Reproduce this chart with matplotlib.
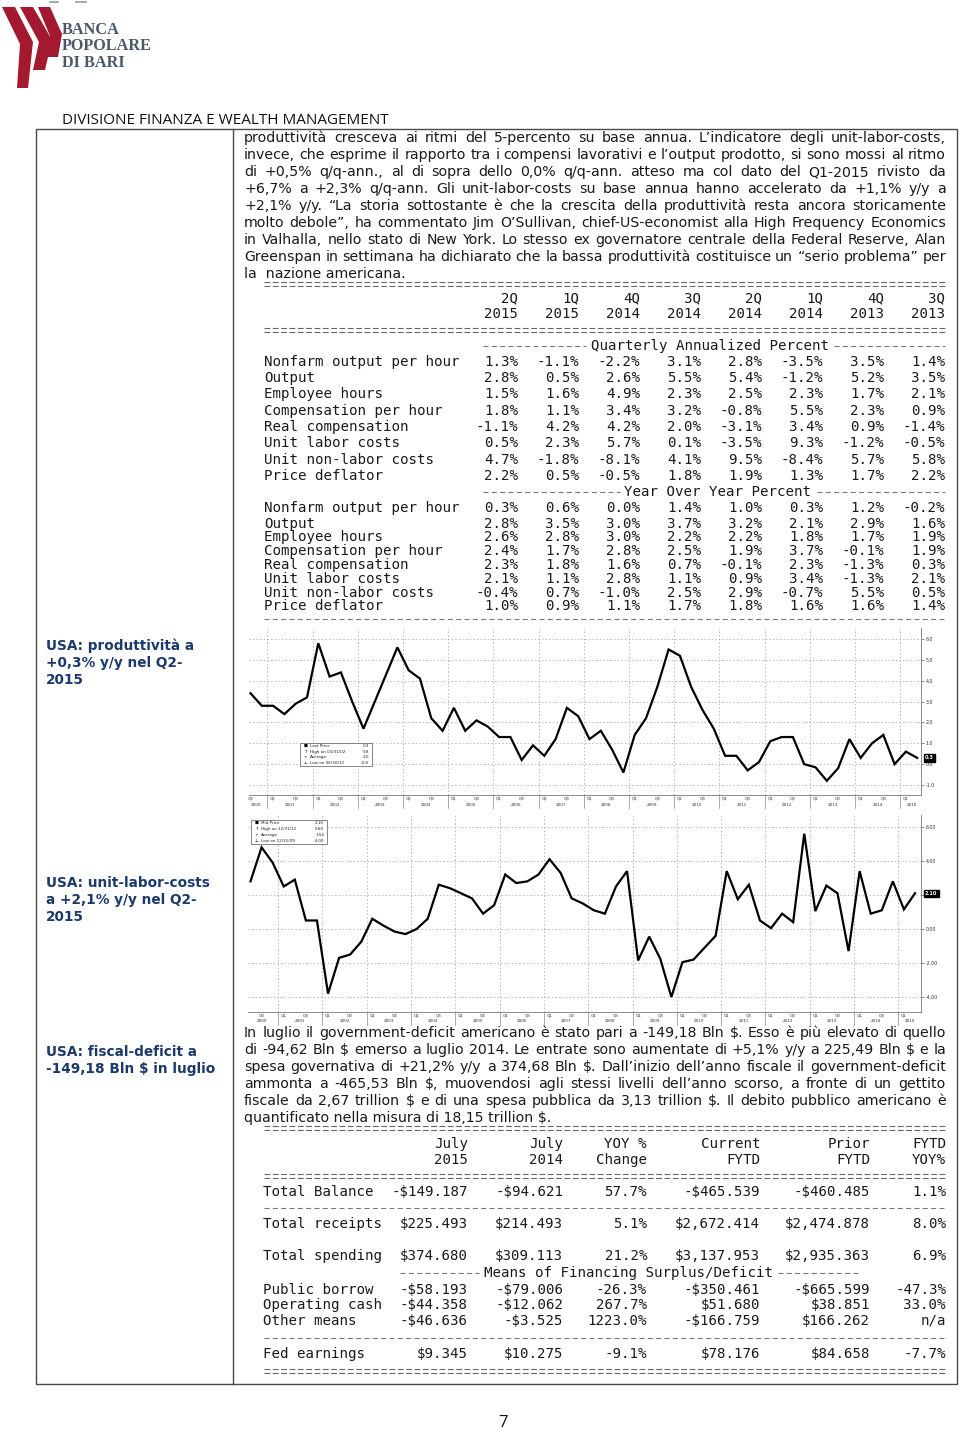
import matplotlib
matplotlib.use("Agg")
import matplotlib.pyplot as plt
from matplotlib.patches import Polygon, Rectangle
from matplotlib.transforms import blended_transform_factory
import numpy as np

plt.rcParams['text.parse_math'] = False
plt.rcParams['lines.scale_dashes'] = False

W, H = 960, 1431

# ---------------- data ----------------
# productivity y/y %, quarterly, Q3 2000 .. Q2 2015
prod_yoy = [3.4, 2.8, 2.8, 2.4, 2.9, 3.2, 5.8, 4.2, 4.4, 3.0,
            1.7, 3.0, 4.3, 5.6, 4.5, 4.1, 2.2, 1.6, 2.7, 1.6,
            2.1, 1.8, 1.3, 1.3, 0.2, 0.9, 0.4, 1.2, 2.7, 2.3,
            1.2, 1.6, 0.7, -0.4, 1.4, 2.2, 3.7, 5.5, 5.2, 3.7,
            2.6, 1.7, 0.4, 0.4, -0.3, 0.1, 1.1, 1.3, 1.3, 0.0,
            -0.15, -0.8, -0.2, 1.2, 0.3, 1.0, 1.4, 0.0, 0.6, 0.3]
prod_start = (2000, 3)
prod_legend = [("Last Price", "0.3"), ("High on 03/31/02", "5.8"),
               ("Average", "2.0"), ("Low on 06/30/13", "-0.8")]
prod_ticks = [-1, 0, 1, 2, 3, 4, 5, 6]

# unit labor costs y/y %, quarterly, Q2 2000 .. Q2 2015
ulc_yoy = [2.8, 4.8, 3.9, 2.5, 2.9, 0.5, 0.5, -3.8, -1.7, -1.5,
           -0.75, 0.6, 0.2, -0.15, -0.3, 0.0, 0.6, 2.6, 2.4, 2.1,
           1.8, 0.9, 1.4, 3.2, 2.7, 2.8, 3.2, 4.1, 3.3, 1.8,
           1.5, 1.1, 0.9, 2.5, 3.4, -1.85, -0.45, -1.75, -4.0, -1.95,
           -1.8, -1.1, -0.4, 3.4, 1.75, 2.6, 0.5, 0.05, 0.9, 0.4,
           5.6, 1.05, 2.55, 2.1, -1.3, 3.4, 0.9, 1.1, 2.8, 1.15, 2.1]
ulc_start = (2000, 2)
ulc_legend = [("Mid Price", "2.10"), ("High on 12/31/12", "5.60"),
              ("Average", "1.54"), ("Low on 12/31/09", "-4.00")]
ulc_ticks = [-4, -2, 0, 2, 4, 6]

para1 = [
    "produttività cresceva ai ritmi del 5-percento su base annua. L’indicatore degli unit-labor-costs,",
    "invece, che esprime il rapporto tra i compensi lavorativi e l’output prodotto, si sono mossi al ritmo",
    "di +0,5% q/q-ann., al di sopra dello 0,0% q/q-ann. atteso ma col dato del Q1-2015 rivisto da",
    "+6,7% a +2,3% q/q-ann. Gli unit-labor-costs su base annua hanno accelerato da +1,1% y/y a",
    "+2,1% y/y. “La storia sottostante è che la crescita della produttività resta ancora storicamente",
    "molto debole”, ha commentato Jim  O’Sullivan, chief-US-economist alla High Frequency Economics",
    "in Valhalla, nello stato di New York. Lo stesso ex governatore centrale della Federal Reserve, Alan",
    "Greenspan in settimana ha dichiarato che la bassa produttività costituisce un “serio problema” per",
    "la  nazione americana.",
]
para2 = [
    "In luglio il government-deficit americano è stato pari a -149,18 Bln $. Esso è più elevato di quello",
    "di -94,62 Bln $ emerso a luglio 2014. Le entrate sono aumentate di +5,1% y/y a 225,49 Bln $ e la",
    "spesa governativa di +21,2% y/y a 374,68 Bln $. Dall’inizio dell’anno fiscale il government-deficit",
    "ammonta a -465,53 Bln $, muovendosi agli stessi livelli dell’anno scorso, a fronte di un gettito",
    "fiscale da 2,67 trillion $ e di una spesa pubblica da 3,13 trillion $. Il debito pubblico americano è",
    "quantificato nella misura di 18,15 trillion $.",
]
side_prod = ["USA: produttività a", "+0,3% y/y nel Q2-", "2015"]
side_ulc = ["USA: unit-labor-costs", "a +2,1% y/y nel Q2-", "2015"]
side_fisc = ["USA: fiscal-deficit a", "-149,18 Bln $ in luglio"]

t1_quarters = ["2Q", "1Q", "4Q", "3Q", "2Q", "1Q", "4Q", "3Q"]
t1_years = ["2015", "2015", "2014", "2014", "2014", "2014", "2013", "2013"]
t1_rows = ["Nonfarm output per hour", "Output", "Employee hours",
           "Compensation per hour", "Real compensation", "Unit labor costs",
           "Unit non-labor costs", "Price deflator"]
t1_qann = [[1.3, -1.1, -2.2, 3.1, 2.8, -3.5, 3.5, 1.4],
           [2.8, 0.5, 2.6, 5.5, 5.4, -1.2, 5.2, 3.5],
           [1.5, 1.6, 4.9, 2.3, 2.5, 2.3, 1.7, 2.1],
           [1.8, 1.1, 3.4, 3.2, -0.8, 5.5, 2.3, 0.9],
           [-1.1, 4.2, 4.2, 2.0, -3.1, 3.4, 0.9, -1.4],
           [0.5, 2.3, 5.7, 0.1, -3.5, 9.3, -1.2, -0.5],
           [4.7, -1.8, -8.1, 4.1, 9.5, -8.4, 5.7, 5.8],
           [2.2, 0.5, -0.5, 1.8, 1.9, 1.3, 1.7, 2.2]]
t1_yoy = [[0.3, 0.6, 0.0, 1.4, 1.0, 0.3, 1.2, -0.2],
          [2.8, 3.5, 3.0, 3.7, 3.2, 2.1, 2.9, 1.6],
          [2.6, 2.8, 3.0, 2.2, 2.2, 1.8, 1.7, 1.9],
          [2.4, 1.7, 2.8, 2.5, 1.9, 3.7, -0.1, 1.9],
          [2.3, 1.8, 1.6, 0.7, -0.1, 2.3, -1.3, 0.3],
          [2.1, 1.1, 2.8, 1.1, 0.9, 3.4, -1.3, 2.1],
          [-0.4, 0.7, -1.0, 2.5, 2.9, -0.7, 5.5, 0.5],
          [1.0, 0.9, 1.1, 1.7, 1.8, 1.6, 1.6, 1.4]]

t2_head1 = ["July", "July", "YOY %", "Current", "Prior", "FYTD"]
t2_head2 = ["2015", "2014", "Change", "FYTD", "FYTD", "YOY%"]
t2_rows = ["Total Balance", "Total receipts", "Total spending", "Public borrow",
           "Operating cash", "Other means", "Fed earnings"]
t2_vals = [["-$149.187", "-$94.621", "57.7%", "-$465.539", "-$460.485", "1.1%"],
           ["$225.493", "$214.493", "5.1%", "$2,672.414", "$2,474.878", "8.0%"],
           ["$374.680", "$309.113", "21.2%", "$3,137.953", "$2,935.363", "6.9%"],
           ["-$58.193", "-$79.006", "-26.3%", "-$350.461", "-$665.599", "-47.3%"],
           ["-$44.358", "-$12.062", "267.7%", "$51.680", "$38.851", "33.0%"],
           ["-$46.636", "-$3.525", "1223.0%", "-$166.759", "$166.262", "n/a"],
           ["$9.345", "$10.275", "-9.1%", "$78.176", "$84.658", "-7.7%"]]

# ---------------- page ----------------
fig = plt.figure(figsize=(W / 100, H / 100), dpi=100)
page = fig.add_axes([0, 0, 1, 1])
page.set_xlim(0, W)
page.set_ylim(H, 0)
page.axis('off')
rend = fig.canvas.get_renderer()

TXT = '#1a1a1a'
NAVY = '#1b3a6b'
MONO = 'DejaVu Sans Mono'
MFS = 10.2


def fit(t, width):
    w = t.get_window_extent(rend).width
    t.set_fontsize(t.get_fontsize() * width / w)


def justify(s, x0, x1, yb, fs):
    words = s.split()
    ts = [page.text(0, yb, w, fontsize=fs, va='baseline', color=TXT) for w in words]
    while True:
        ws = [t.get_window_extent(rend).width for t in ts]
        gap = (x1 - x0 - sum(ws)) / (len(words) - 1)
        if gap >= 3.5:
            break
        fs -= 0.1
        for t in ts:
            t.set_fontsize(fs)
    x = x0
    for t, w in zip(ts, ws):
        t.set_x(x)
        x += w + gap


def paragraph(lines, x0, x1, yb0, dy, fs):
    for k, s in enumerate(lines):
        yb = yb0 + k * dy
        if k == len(lines) - 1:
            page.text(x0, yb, s, fontsize=fs, va='baseline', color=TXT)
        else:
            justify(s, x0, x1, yb, fs)


def eq_line(y, xa, xb):
    for dy in (-1.6, 1.6):
        page.plot([xa, xb], [y + dy, y + dy], color='#666666', lw=0.8,
                  dashes=(4.2, 1.8))


def dash_line(y, xa, xb):
    page.plot([xa, xb], [y, y], color='#777777', lw=0.8, dashes=(3.6, 2.4))


def fig_rect(x0, y0, x1, y1):
    return [x0 / W, 1 - y1 / H, (x1 - x0) / W, (y1 - y0) / H]


# logo
red = '#a3192f'
bands = [[(2, 7), (15, 7), (33, 42), (28, 88), (17, 88), (20, 44)],
         [(20, 7), (33, 7), (52, 40), (45, 70), (33, 70), (39, 42)],
         [(38, 7), (50, 7), (62, 34), (58, 57), (47, 57), (50, 36)]]
for b in bands:
    page.add_patch(Polygon(b, closed=True, fc=red, ec='none'))
page.plot([50, 58], [2, 2], color='#999999', lw=1.2)
page.plot([76, 86], [2, 2], color='#999999', lw=1.2)
lg = page.text(62, 30, "BANCA", family='Liberation Serif', fontweight='bold',
               fontsize=12, color='#4b5868', va='center')
lp = page.text(62, 46, "POPOLARE", family='Liberation Serif', fontweight='bold',
               fontsize=12, color='#4b5868', va='center')
fit(lp, 90)
lg.set_fontsize(lp.get_fontsize())
page.text(62, 63, "DI BARI", family='Liberation Serif', fontweight='bold',
          fontsize=lp.get_fontsize(), color='#4b5868', va='center')

hd = page.text(62, 120, "DIVISIONE FINANZA E WEALTH MANAGEMENT", family='Open Sans',
               fontsize=11, color='#111111', va='center')
fit(hd, 326)

# frame
page.add_patch(Rectangle((36, 129), 957 - 36, 1384 - 129, fill=False,
                         ec='#4a4a4a', lw=1.0))
page.plot([233, 233], [129, 1384], color='#4a4a4a', lw=1.0)

# text paragraphs
paragraph(para1, 244, 946, 142, 17, 10.2)
paragraph(para2, 244, 946, 1037, 17, 10.2)

# side labels
for lines, yc in ((side_prod, 646), (side_ulc, 883), (side_fisc, 1052)):
    for k, s in enumerate(lines):
        page.text(46, yc + 17 * k, s, fontsize=9.8, fontweight='bold',
                  color=NAVY, va='center')

# ---------------- table 1 ----------------
t1_cols = [518, 579, 640, 701, 762, 823, 884, 945]
eq_line(284, 264, 945)
for c, q, yr in zip(t1_cols, t1_quarters, t1_years):
    page.text(c, 298, q, family=MONO, fontsize=MFS, ha='right', va='center', color=TXT)
    page.text(c, 314, yr, family=MONO, fontsize=MFS, ha='right', va='center', color=TXT)
eq_line(330, 264, 945)


def sub_header(txt, y, xa, xb, xc):
    t = page.text(xc, y, txt, family=MONO, fontsize=MFS, ha='center', va='center', color=TXT)
    bb = t.get_window_extent(rend)
    dash_line(y, xa, bb.x0 - 5)
    dash_line(y, bb.x1 + 5, xb)


sub_header("Quarterly Annualized Percent", 346, 483, 945, 710)
q_rows_y = [362, 378, 394, 411, 427, 443, 460, 476]
for name, vals, y in zip(t1_rows, t1_qann, q_rows_y):
    page.text(264, y, name, family=MONO, fontsize=MFS, va='center', color=TXT)
    for c, v in zip(t1_cols, vals):
        page.text(c, y, "%.1f%%" % v, family=MONO, fontsize=MFS, ha='right',
                  va='center', color=TXT)
sub_header("Year Over Year Percent", 492, 483, 945, 718)
y_rows_y = [508, 524, 537, 551, 565, 579, 593, 606]
for name, vals, y in zip(t1_rows, t1_yoy, y_rows_y):
    page.text(264, y, name, family=MONO, fontsize=MFS, va='center', color=TXT)
    for c, v in zip(t1_cols, vals):
        page.text(c, y, "%.1f%%" % v, family=MONO, fontsize=MFS, ha='right',
                  va='center', color=TXT)
dash_line(619, 264, 945)

# ---------------- table 2 ----------------
t2_cols = [468, 563, 647, 760, 870, 946]
eq_line(1128, 264, 946)
for c, a, b in zip(t2_cols, t2_head1, t2_head2):
    page.text(c, 1144, a, family=MONO, fontsize=MFS, ha='right', va='center', color=TXT)
    page.text(c, 1160, b, family=MONO, fontsize=MFS, ha='right', va='center', color=TXT)
eq_line(1176, 264, 946)
t2_rows_y = [1192, 1224, 1256, 1290, 1305, 1321, 1354]
for name, vals, y in zip(t2_rows, t2_vals, t2_rows_y):
    page.text(263, y, name, family=MONO, fontsize=MFS, va='center', color=TXT)
    for c, v in zip(t2_cols, vals):
        page.text(c, y, v, family=MONO, fontsize=MFS, ha='right', va='center', color=TXT)
dash_line(1208, 264, 946)
sub_header("Means of Financing Surplus/Deficit", 1273, 400, 858, 628)
dash_line(1338, 264, 946)
eq_line(1371, 264, 946)


# ---------------- charts ----------------
def draw_chart(x0, y0, x1, y1, vals, start, first_px, step_px, ylim, yticks, yfmt,
               tag, leg, leg_rows):
    ax = fig.add_axes(fig_rect(x0, y0, x1, y1))
    ax.set_facecolor('none')
    n = len(vals)
    ax.plot(np.arange(n), vals, color='black', lw=1.6, solid_joinstyle='miter')
    ax.set_xlim((x0 - first_px) / step_px, (x1 - first_px) / step_px)
    ax.set_ylim(*ylim)
    qs = [(start[0] + (start[1] - 1 + i) // 4, (start[1] - 1 + i) % 4 + 1) for i in range(n)]
    qpos = [i for i in range(n) if qs[i][1] in (1, 3)]
    ax.set_xticks(qpos, ['Q%d' % qs[i][1] for i in qpos])
    ax.set_yticks(yticks, [yfmt.format(v) for v in yticks])
    ax.yaxis.tick_right()
    ax.tick_params(axis='y', labelsize=3.4, length=2, width=0.4, pad=1.5, colors='#333333')
    ax.tick_params(axis='x', labelsize=3.0, length=0, pad=1.0, colors='#333333')
    bounds = [i - 0.5 for i in range(n) if qs[i][1] == 1]
    for v in yticks:
        ax.axhline(v, color='#9a9a9a', lw=0.5, ls=(0, (1, 1.6)), zorder=0)
    for b in bounds:
        ax.axvline(b, color='#9a9a9a', lw=0.5, ls=(0, (1, 1.6)), zorder=0)
    for s in ('top', 'left'):
        ax.spines[s].set_visible(False)
    for s in ('right', 'bottom'):
        ax.spines[s].set_color('#777777')
        ax.spines[s].set_linewidth(0.6)
    hpx = y1 - y0
    wpx = x1 - x0
    tr = blended_transform_factory(ax.transData, ax.transAxes)
    for yr in sorted(set(q[0] for q in qs)):
        idx = [i for i in range(n) if qs[i][0] == yr]
        ax.text(np.mean(idx), -9.5 / hpx, str(yr), transform=tr, ha='center',
                va='center', fontsize=3.0, color='#333333')
    for b in bounds:
        ax.plot([b, b], [0, -13 / hpx], transform=tr, clip_on=False,
                color='#888888', lw=0.5)
    ax.text(1.006, vals[-1], tag, transform=blended_transform_factory(ax.transAxes, ax.transData),
            color='white', fontsize=3.6, fontweight='bold', va='center', ha='left',
            bbox=dict(boxstyle='square,pad=0.25', fc='black', ec='black'))
    lx0, ly0, lx1, ly1 = leg
    fx = lambda p: (p - x0) / wpx
    fy = lambda p: (y1 - p) / hpx
    ax.add_patch(Rectangle((fx(lx0), fy(ly1)), fx(lx1) - fx(lx0), fy(ly0) - fy(ly1),
                           transform=ax.transAxes, fc='white', ec='#555555', lw=0.5, zorder=4))
    marks = ['■', 'T', '+', '⊥']
    rh = (ly1 - ly0) / 4.0
    for k, ((lab, val), m) in enumerate(zip(leg_rows, marks)):
        yy = fy(ly0 + rh * (k + 0.5))
        ax.text(fx(lx0 + 4), yy, m, transform=ax.transAxes, fontsize=3.0, va='center', zorder=5)
        ax.text(fx(lx0 + 10), yy, lab, transform=ax.transAxes, fontsize=3.0, va='center',
                color='#222222', zorder=5)
        ax.text(fx(lx1 - 3), yy, val, transform=ax.transAxes, fontsize=3.0, va='center',
                ha='right', color='#222222', zorder=5)
    return ax


draw_chart(249, 628, 921, 795, prod_yoy, prod_start, 250.5, 11.3, (-1.48, 6.53),
           prod_ticks, "{:.1f}", "0.3", (300, 743, 372, 766), prod_legend)
draw_chart(248, 815, 921, 1012, ulc_yoy, ulc_start, 250.5, 11.075, (-4.88, 6.7),
           ulc_ticks, "{:.2f}", "2.10", (251, 820, 327, 844), ulc_legend)

page.text(503, 1423, "7", family='Open Sans', fontsize=12, ha='center', va='center',
          color='#111111')

fig.savefig("out.png", dpi=100)
